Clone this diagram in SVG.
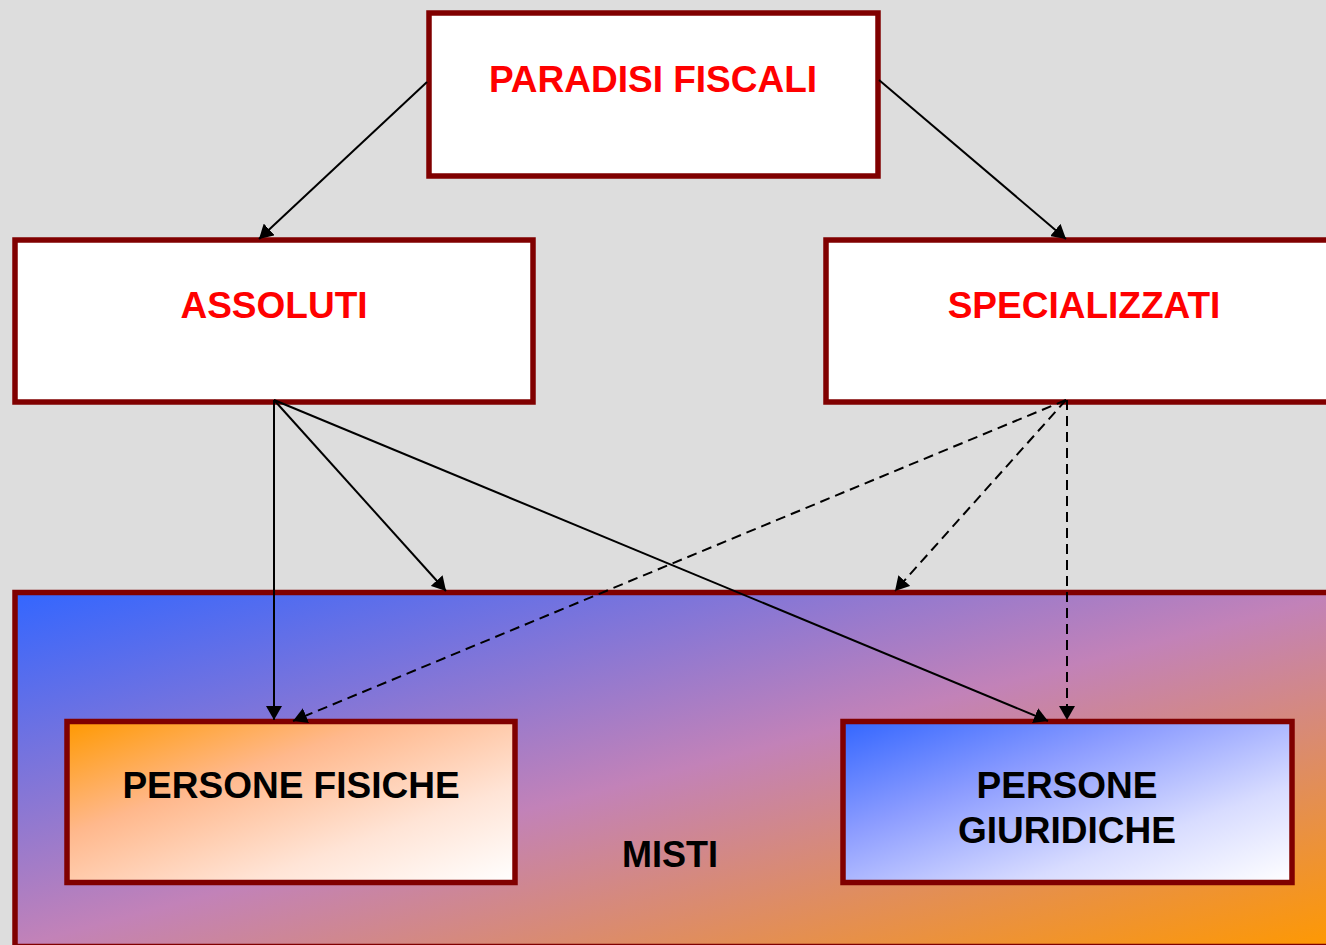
<svg xmlns="http://www.w3.org/2000/svg" width="1326" height="945" viewBox="0 0 1326 945">
  <defs>
    <linearGradient id="gradMisti" x1="0" y1="0" x2="1" y2="1">
      <stop offset="0" stop-color="#3366ff"/>
      <stop offset="0.5" stop-color="#c282b8"/>
      <stop offset="1" stop-color="#ff9900"/>
    </linearGradient>
    <linearGradient id="gradOrange" x1="0" y1="0" x2="1" y2="1">
      <stop offset="0" stop-color="#ff9900"/>
      <stop offset="0.35" stop-color="#ffb88c"/>
      <stop offset="0.7" stop-color="#ffe4d6"/>
      <stop offset="1" stop-color="#ffffff"/>
    </linearGradient>
    <linearGradient id="gradBlue" x1="0" y1="0" x2="1" y2="1">
      <stop offset="0" stop-color="#3366ff"/>
      <stop offset="0.35" stop-color="#8c9cff"/>
      <stop offset="0.7" stop-color="#d8dcff"/>
      <stop offset="1" stop-color="#ffffff"/>
    </linearGradient>
    <marker id="arrow" markerUnits="userSpaceOnUse" markerWidth="16" markerHeight="16" refX="14" refY="8" orient="auto">
      <path d="M0,0 L14,8 L0,16 Z" fill="#000"/>
    </marker>
    <style>
      .box { stroke: #800000; stroke-width: 5.5; }
      .white { fill: #ffffff; }
      .red { font-family: "Liberation Sans", Arial, sans-serif; font-weight: bold; font-size: 37px; fill: #ff0000; text-anchor: middle; }
      .black { font-family: "Liberation Sans", Arial, sans-serif; font-weight: bold; font-size: 37px; fill: #000000; text-anchor: middle; }
      .link { stroke: #000; stroke-width: 2; fill: none; marker-end: url(#arrow); }
      .dash { stroke-dasharray: 10 6; }
    </style>
  </defs>

  <rect x="0" y="0" width="1326" height="945" fill="#dddddd"/>

  <g id="misti">
    <rect class="box" x="15" y="592.5" width="1330" height="354" fill="url(#gradMisti)"/>
    <text class="black" x="670" y="867" style="font-size:36px">MISTI</text>
  </g>

  <g id="paradisi-fiscali">
    <rect class="box white" x="429" y="13" width="449" height="163"/>
    <text class="red" x="653" y="92">PARADISI FISCALI</text>
  </g>

  <g id="assoluti">
    <rect class="box white" x="15" y="240" width="518" height="162"/>
    <text class="red" x="274" y="318">ASSOLUTI</text>
  </g>

  <g id="specializzati">
    <rect class="box white" x="826" y="240" width="518" height="162"/>
    <text class="red" x="1084" y="318">SPECIALIZZATI</text>
  </g>

  <g id="persone-fisiche">
    <rect class="box" x="67" y="721.5" width="448" height="161" fill="url(#gradOrange)"/>
    <text class="black" x="291" y="798">PERSONE FISICHE</text>
  </g>

  <g id="persone-giuridiche">
    <rect class="box" x="843" y="721.5" width="449" height="161" fill="url(#gradBlue)"/>
    <text class="black" x="1067" y="798">PERSONE</text>
    <text class="black" x="1067" y="843">GIURIDICHE</text>
  </g>

  <g id="connectors">
    <line class="link" x1="427" y1="82" x2="259" y2="239"/>
    <line class="link" x1="879" y1="80" x2="1066" y2="239"/>
    <line class="link" x1="274" y1="400" x2="274" y2="720"/>
    <line class="link" x1="274" y1="400" x2="446" y2="591"/>
    <line class="link" x1="274" y1="400" x2="1048" y2="721"/>
    <line class="link dash" x1="1066" y1="400" x2="293" y2="721"/>
    <line class="link dash" x1="1066" y1="400" x2="895" y2="591"/>
    <line class="link dash" x1="1067" y1="400" x2="1067" y2="720"/>
  </g>
</svg>
